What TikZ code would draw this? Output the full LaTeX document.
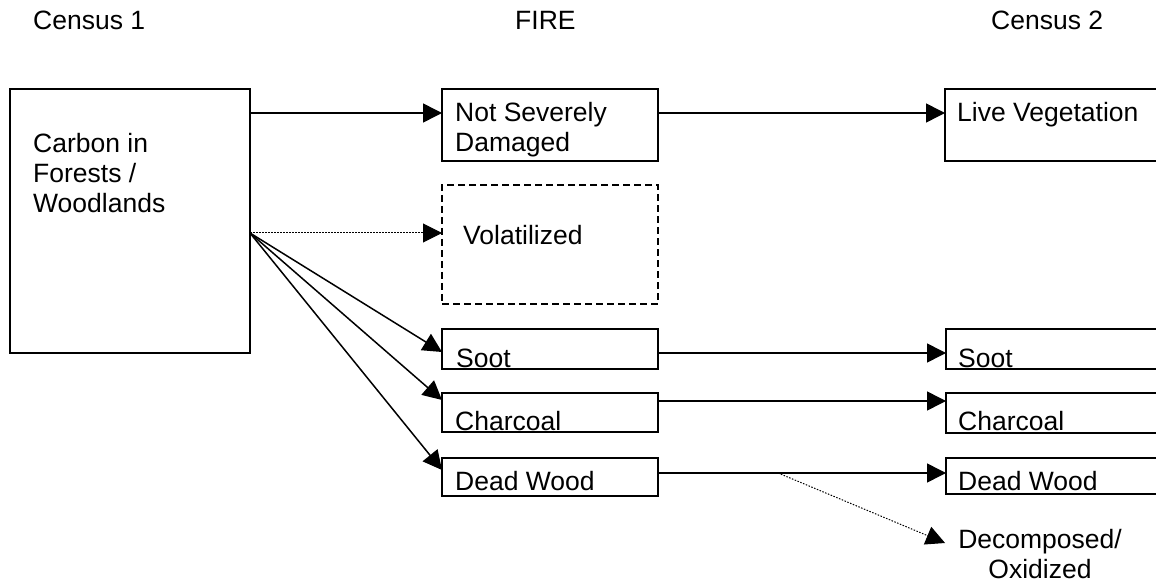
\documentclass[tikz,border=0pt]{standalone}
\usepackage{fontspec}
\setmainfont{Liberation Sans}
\usetikzlibrary{arrows.meta}
\begin{document}
\begin{tikzpicture}[x=1pt,y=-1pt,
  font=\fontsize{26.5}{30}\selectfont,
  box/.style={draw,line width=1.5pt,inner sep=0pt,outer sep=0pt,anchor=north west},
  dbox/.style={box,dash pattern=on 7pt off 4pt},
  txt/.style={inner sep=0pt,anchor=base west,align=left},
  arr/.style={line width=1.5pt,-{Triangle[length=19pt,width=19pt]}},
  darr/.style={line width=1pt,dash pattern=on 1.5pt off 1.5pt,-{Triangle[length=19pt,width=19pt]}}]
\useasboundingbox (0,0) rectangle (1156,585);
\clip (0,0) rectangle (1156,585);
% headings
\node[txt] (h1) at (33,30) {Census 1};
\node[txt] (h2) at (515,30) {FIRE};
\node[txt] (h3) at (991,30) {Census 2};
% boxes
\node[box,minimum width=240pt,minimum height=264pt] (c1) at (10,89) {};
\node[box,minimum width=216pt,minimum height=72pt] (nsd) at (442,89) {};
\node[dbox,minimum width=216pt,minimum height=119pt] (vol) at (442,185) {};
\node[box,minimum width=216pt,minimum height=40pt] (soot1) at (442,329) {};
\node[box,minimum width=216pt,minimum height=39pt] (char1) at (442,393) {};
\node[box,minimum width=216pt,minimum height=38pt] (dw1) at (442,458) {};
\node[box,minimum width=216pt,minimum height=72pt] (lv) at (945,89) {};
\node[box,minimum width=216pt,minimum height=40pt] (soot2) at (946,329) {};
\node[box,minimum width=216pt,minimum height=40pt] (char2) at (946,393) {};
\node[box,minimum width=216pt,minimum height=36pt] (dw2) at (946,458) {};
% texts (base = baseline of the last line)
\node[txt] (c1t) at (33,213) {Carbon in\\Forests /\\Woodlands};
\node[txt] (nsdt) at (455,152) {Not Severely\\Damaged};
\node[txt] (volt) at (463,245) {Volatilized};
\node[txt] (soot1t) at (456,367) {Soot};
\node[txt] (char1t) at (455,430) {Charcoal};
\node[txt] (dw1t) at (455,490) {Dead Wood};
\node[txt] (lvt) at (957,122) {Live Vegetation};
\node[txt] (soot2t) at (958,367) {Soot};
\node[txt] (char2t) at (958,430) {Charcoal};
\node[txt] (dw2t) at (958,490) {Dead Wood};
\node[inner sep=0pt,anchor=base,align=center] (dec) at (1040,578) {Decomposed/\\Oxidized};
% connectors
\draw[arr] ([yshift=-24pt]c1.north east) -- ([yshift=-24pt]nsd.north west);
\draw[arr] ([yshift=-24pt]nsd.north east) -- ([yshift=-24pt]lv.north west);
\draw[darr] ([yshift=-144pt]c1.north east) -- ([yshift=-48pt]vol.north west);
\draw[arr] ([yshift=-144pt]c1.north east) -- ([yshift=-23pt]soot1.north west);
\draw[arr] ([yshift=-144pt]c1.north east) -- ([yshift=-7pt]char1.north west);
\draw[arr] ([yshift=-144pt]c1.north east) -- ([yshift=-12pt]dw1.north west);
\draw[arr] ([yshift=-24pt]soot1.north east) -- ([yshift=-24pt]soot2.north west);
\draw[arr] ([yshift=-8pt]char1.north east) -- ([yshift=-8pt]char2.north west);
\draw[arr] ([yshift=-15pt]dw1.north east) -- coordinate[pos=0.417] (split) ([yshift=-15pt]dw2.north west);
\coordinate (dectip) at ([xshift=-13pt,yshift=35pt]dec.base west);
\draw[darr] (split) -- (dectip);
\end{tikzpicture}
\end{document}
